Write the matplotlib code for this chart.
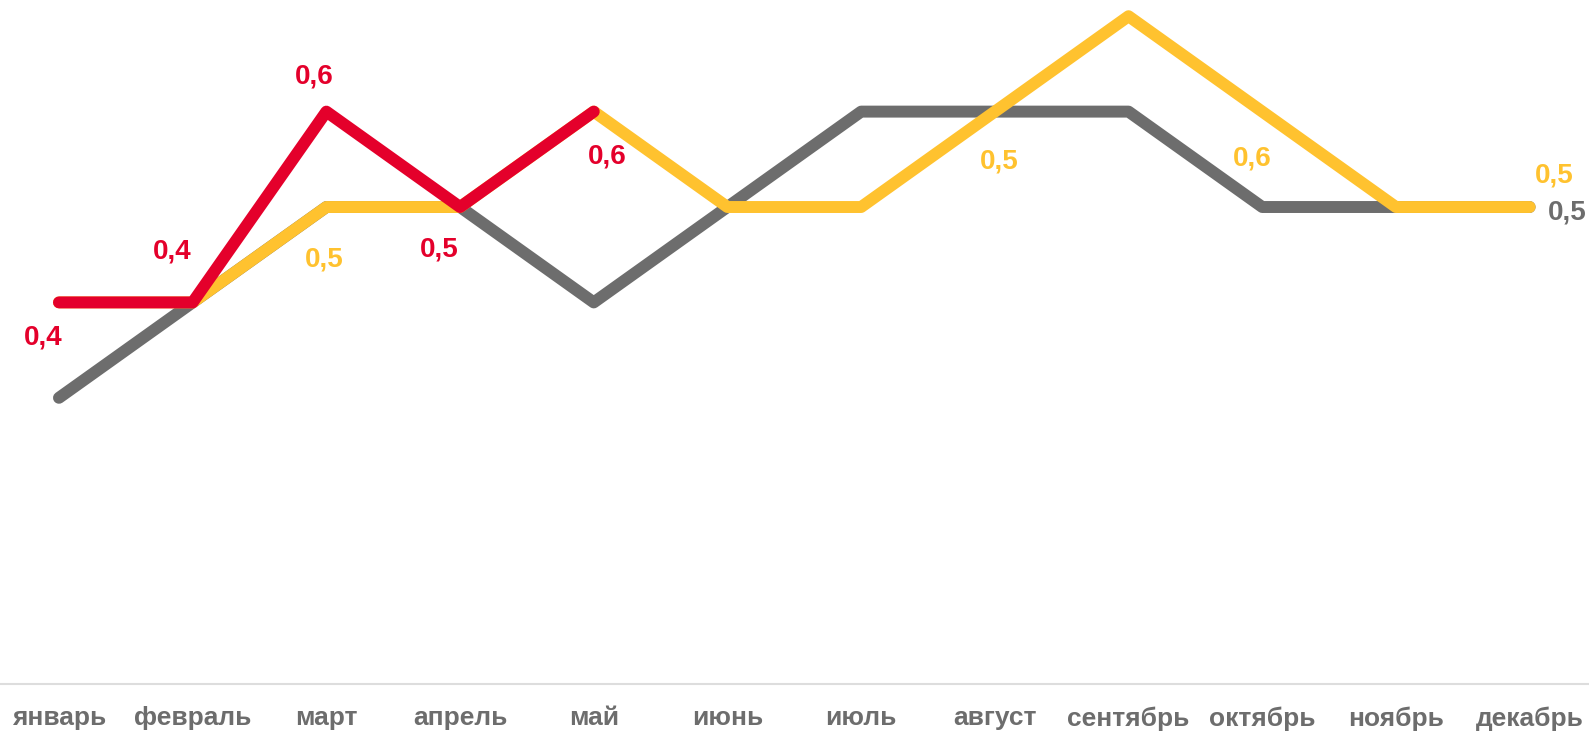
import matplotlib
matplotlib.use('Agg')
import matplotlib.pyplot as plt
import numpy as np

# Data.
months = ['январь', 'февраль', 'март', 'апрель', 'май', 'июнь',
          'июль', 'август', 'сентябрь', 'октябрь', 'ноябрь', 'декабрь']
gray_values = [0.40, 0.45, 0.50, 0.50, 0.45, 0.50, 0.55, 0.55, 0.55, 0.50, 0.50, 0.50]
yellow_values = [0.45, 0.45, 0.50, 0.50, 0.55, 0.50, 0.50, 0.55, 0.60, 0.55, 0.50, 0.50]
red_values = [0.45, 0.45, 0.55, 0.50, 0.55]

# Labelled points: (month index, text, dx px, dy px).
gray_labels = [(11, '0,5', 38, -5)]
yellow_labels = [(2, '0,5', -2, -52), (7, '0,5', 4, -50), (9, '0,6', -10, -47), (11, '0,5', 25, 32)]
red_labels = [(0, '0,4', -16, -35), (1, '0,4', -20, 51), (2, '0,6', -12, 35),
              (3, '0,5', -21, -42), (4, '0,6', 13, -45)]

GRAY = '#6d6d6d'
YELLOW = '#ffc22f'
RED = '#e4002b'

plt.rcParams['font.family'] = ['Liberation Sans', 'DejaVu Sans']

fig = plt.figure(figsize=(15.89, 7.31), dpi=100)
ax = fig.add_axes([0, 47 / 731, 1, 684 / 731])

x = np.arange(len(months))
series = [(gray_values, GRAY, gray_labels),
          (yellow_values, YELLOW, yellow_labels),
          (red_values, RED, red_labels)]
for values, color, labels in series:
    ax.plot(x[:len(values)], values, color=color, lw=8.6,
            solid_capstyle='round', solid_joinstyle='round')
    for i, text, dx, dy in labels:
        ax.annotate(text, (x[i], values[i]), xytext=(dx, dy), textcoords='offset pixels',
                    ha='center', va='center', color=color, fontsize=20, fontweight='bold')

ax.set_xlim(-0.441, 11.444)
ax.set_ylim(0.25, 0.6085)
ax.set_xticks(x)
ax.set_xticklabels(months, fontsize=19, fontweight='bold', color=GRAY)
ax.tick_params(axis='x', length=0, pad=16)
ax.set_yticks([])
for side in ['top', 'left', 'right']:
    ax.spines[side].set_visible(False)
ax.spines['bottom'].set_color('#dddddd')
ax.spines['bottom'].set_linewidth(1.5)
ax.patch.set_alpha(0)

fig.savefig('out.png', dpi=100)
plt.close(fig)
